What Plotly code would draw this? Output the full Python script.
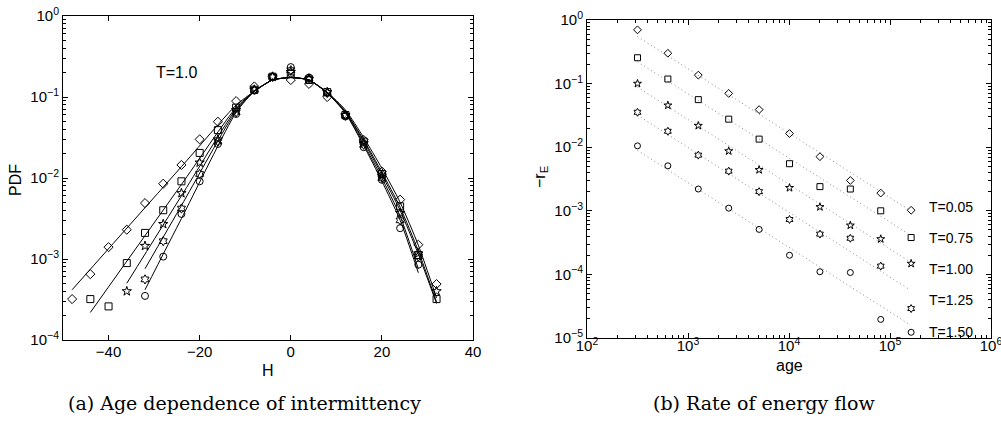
import math
import plotly.graph_objects as go

# ---------------- Panel (a): PDF of H at T=1.0 ----------------
H_diamond = [-48, -44, -40, -36, -32, -28, -24, -20, -16, -12, -8, -4, 0, 4, 8, 12, 16, 20, 24, 28, 32]
P_diamond = [3.2e-4, 6.5e-4, 1.4e-3, 2.3e-3, 4.9e-3, 8.5e-3, 0.0145, 0.030, 0.0495, 0.089, 0.135,
             0.178, 0.162, 0.145, 0.100, 0.060, 0.0295, 0.012, 0.0054, 0.0015, 0.00049]
H_square = [-44, -40, -36, -32, -28, -24, -20, -16, -12, -8, -4, 0, 4, 8, 12, 16, 20, 24, 28, 32]
P_square = [3.2e-4, 2.6e-4, 8.9e-4, 2.1e-3, 4.0e-3, 9.1e-3, 0.0204, 0.039, 0.074, 0.123, 0.178,
            0.195, 0.162, 0.115, 0.060, 0.0282, 0.0112, 0.00447, 0.00112, 0.00032]
H_star = [-36, -32, -28, -24, -20, -16, -12, -8, -4, 0, 4, 8, 12, 16, 20, 24, 28, 32]
P_star = [4.0e-4, 1.45e-3, 2.7e-3, 6.5e-3, 0.0155, 0.030, 0.069, 0.123, 0.178, 0.204, 0.166,
          0.115, 0.060, 0.0269, 0.0107, 0.0037, 0.00117, 0.00040]
H_hex = [-32, -28, -24, -20, -16, -12, -8, -4, 0, 4, 8, 12, 16, 20, 24, 28]
P_hex = [5.6e-4, 1.66e-3, 4.2e-3, 0.0112, 0.0282, 0.0646, 0.123, 0.178, 0.214, 0.170, 0.112,
         0.0589, 0.0257, 0.0100, 0.0030, 0.00107]
H_circle = [-32, -28, -24, -20, -16, -12, -8, -4, 0, 4, 8, 12, 16, 20, 24, 28]
P_circle = [3.5e-4, 1.07e-3, 3.6e-3, 9.1e-3, 0.0263, 0.0617, 0.120, 0.178, 0.234, 0.174, 0.112,
            0.0575, 0.024, 0.0095, 0.0024, 0.00085]

# fitted curves (log10 of PDF)
FH_diamond = [-48, -24, -12, -8, -4, 0, 4, 8, 12, 16, 20, 24, 28, 32]
FL_diamond = [-3.38, -1.86, -1.10, -0.93, -0.79, -0.76, -0.79, -0.94, -1.16, -1.50, -1.88, -2.30, -2.83, -3.48]
FH_square = [-44, -24, -12, -8, -4, 0, 4, 8, 12, 16, 20, 24, 28, 32]
FL_square = [-3.66, -2.08, -1.13, -0.93, -0.79, -0.76, -0.79, -0.95, -1.18, -1.53, -1.93, -2.36, -2.90, -3.53]
FH_star = [-36, -24, -12, -8, -4, 0, 4, 8, 12, 16, 20, 24, 28, 32]
FL_star = [-3.30, -2.22, -1.15, -0.93, -0.79, -0.76, -0.79, -0.95, -1.18, -1.55, -1.96, -2.40, -2.94, -3.55]
FH_hex = [-32, -24, -12, -8, -4, 0, 4, 8, 12, 16, 20, 24, 28]
FL_hex = [-3.12, -2.34, -1.17, -0.93, -0.79, -0.76, -0.79, -0.95, -1.19, -1.58, -2.00, -2.47, -3.12]
FH_circle = [-32, -24, -12, -8, -4, 0, 4, 8, 12, 16, 20, 24, 28]
FL_circle = [-3.38, -2.50, -1.19, -0.93, -0.79, -0.76, -0.79, -0.95, -1.20, -1.60, -2.04, -2.52, -3.17]

# ---------------- Panel (b): rate of energy flow ----------------
ages = [316, 632, 1265, 2530, 5060, 10120, 20240, 40480, 80960, 161920]
T_labels = ["T=0.05", "T=0.75", "T=1.00", "T=1.25", "T=1.50"]
rE_005 = [0.70, 0.30, 0.136, 0.070, 0.039, 0.0164, 0.0071, 0.0030, 0.0019, 0.00102]
rE_075 = [0.255, 0.118, 0.056, 0.0276, 0.0134, 0.0055, 0.0024, 0.0022, 0.0010, 0.00038]
rE_100 = [0.10, 0.0455, 0.0218, 0.0087, 0.0044, 0.0023, 0.00115, 0.00059, 0.00036, 0.000148]
rE_125 = [0.0354, 0.0178, 0.0075, 0.0042, 0.0020, 0.00073, 0.00043, 0.00037, 0.000135, 2.9e-5]
rE_150 = [0.0105, 0.0051, 0.0022, 0.0011, 0.00051, 0.0002, 0.00011, 0.000107, 1.96e-5, 1.23e-5]
fit_age = [316, 150000]
fit_005 = [0.55, 0.00107]
fit_075 = [0.22, 0.00044]
fit_100 = [0.088, 0.000166]
fit_125 = [0.032, 6.0e-5]
fit_150 = [0.0089, 1.7e-5]
label_y = [1.15e-3, 3.8e-4, 1.23e-4, 3.9e-5, 1.23e-5]

symbols = ["diamond-open", "square-open", "star-open", "hexagram-open", "circle-open"]

W, HGT = 1001, 446


def px(x):
    return x / W


def py(y):
    return 1 - y / HGT


fig = go.Figure()

left_sets = [
    (H_diamond, P_diamond, FH_diamond, FL_diamond),
    (H_square, P_square, FH_square, FL_square),
    (H_star, P_star, FH_star, FL_star),
    (H_hex, P_hex, FH_hex, FL_hex),
    (H_circle, P_circle, FH_circle, FL_circle),
]
for (hx, pv, fh, fl), sym in zip(left_sets, symbols):
    fig.add_trace(go.Scatter(x=fh, y=[10 ** v for v in fl], mode="lines",
                             line=dict(color="black", width=1, shape="spline", smoothing=0.6),
                             xaxis="x", yaxis="y", showlegend=False, hoverinfo="skip"))
    fig.add_trace(go.Scatter(x=hx, y=pv, mode="markers",
                             marker=dict(symbol=sym, size=7, color="black", line=dict(width=1, color="black")),
                             xaxis="x", yaxis="y", showlegend=False))

right_sets = [(rE_005, fit_005), (rE_075, fit_075), (rE_100, fit_100), (rE_125, fit_125), (rE_150, fit_150)]
for (vals, fit), sym in zip(right_sets, symbols):
    fig.add_trace(go.Scatter(x=fit_age, y=fit, mode="lines",
                             line=dict(color="#8a8a8a", width=1, dash="1px,3px"),
                             xaxis="x2", yaxis="y2", showlegend=False, hoverinfo="skip"))
    fig.add_trace(go.Scatter(x=ages, y=vals, mode="markers",
                             marker=dict(symbol=sym, size=6, color="black", line=dict(width=1, color="black")),
                             xaxis="x2", yaxis="y2", showlegend=False))

SANS = "Liberation Sans"
tick_font = dict(family=SANS, size=15, color="black")
common = dict(showline=True, linecolor="black", linewidth=1, ticks="inside",
              ticklen=5, tickcolor="black", tickwidth=1, showgrid=False, zeroline=False,
              tickfont=tick_font, automargin=False, ticklabeloverflow="allow")


def pw(k):
    return "10<sup>" + ("−" + str(-k) if k < 0 else str(k)) + "</sup>"


def decades(lo, hi):
    return [10.0 ** k for k in range(lo, hi + 1)]


def minors(lo, hi):
    return [m * 10.0 ** k for k in range(lo, hi) for m in range(2, 10)]


def tick_ax(vals, ln, **kw):
    # axis that only draws tick marks (no line, no labels)
    d = dict(showline=False, ticks="inside", ticklen=ln, tickcolor="black", tickwidth=1,
             showgrid=False, zeroline=False, showticklabels=False, automargin=False,
             tickmode="array", tickvals=vals)
    d.update(kw)
    return d


yl_maj, yl_min = decades(-4, 0), minors(-4, 0)
x2_maj, x2_min = decades(2, 6), minors(2, 6)
y2_maj, y2_min = decades(-5, 0), minors(-5, 0)

fig.update_layout(
    width=W, height=HGT, margin=dict(l=0, r=0, t=0, b=0), autosize=False,
    paper_bgcolor="white", plot_bgcolor="white",
    xaxis=dict(domain=[px(63), px(473)], range=[-50, 40], anchor="y", mirror="ticks",
               tickmode="array", tickvals=[-40, -20, 0, 20, 40], ticktext=["−40", "−20", "0", "20", "40"],
               ticklabelstandoff=-2, **common),
    yaxis=dict(domain=[py(340), py(16)], type="log", range=[-4, 0], anchor="x", mirror=True,
               tickmode="array", tickvals=yl_maj, ticktext=[pw(k) for k in range(-4, 1)], **common),
    yaxis3=tick_ax(yl_min, 3, type="log", range=[-4, 0], overlaying="y", side="left", anchor="x"),
    yaxis4=tick_ax(yl_maj, 5, type="log", range=[-4, 0], overlaying="y", side="right", anchor="x"),
    yaxis5=tick_ax(yl_min, 3, type="log", range=[-4, 0], overlaying="y", side="right", anchor="x"),
    xaxis2=dict(domain=[px(587), px(991)], type="log", range=[2, 6], anchor="y2", mirror=True,
                tickmode="array", tickvals=x2_maj, ticktext=[pw(k) for k in range(2, 7)],
                ticklabelstandoff=-6, **common),
    xaxis3=tick_ax(x2_min, 3, type="log", range=[2, 6], overlaying="x2", side="bottom", anchor="y2"),
    xaxis4=tick_ax(x2_maj, 5, type="log", range=[2, 6], overlaying="x2", side="top", anchor="y2"),
    xaxis5=tick_ax(x2_min, 3, type="log", range=[2, 6], overlaying="x2", side="top", anchor="y2"),
    yaxis2=dict(domain=[py(338), py(20)], type="log", range=[-5, 0], anchor="x2", mirror=True,
                tickmode="array", tickvals=y2_maj, ticktext=[pw(k) for k in range(-5, 1)], **common),
    yaxis6=tick_ax(y2_min, 3, type="log", range=[-5, 0], overlaying="y2", side="left", anchor="x2"),
    yaxis7=tick_ax(y2_maj, 5, type="log", range=[-5, 0], overlaying="y2", side="right", anchor="x2"),
    yaxis8=tick_ax(y2_min, 3, type="log", range=[-5, 0], overlaying="y2", side="right", anchor="x2"),
)
# invisible traces so every tick-only axis is drawn
for xa, ya, xv, yv in [("x", "y3", -50, 1e-4), ("x", "y4", -50, 1e-4), ("x", "y5", -50, 1e-4),
                       ("x3", "y2", 1e2, 1e-5), ("x4", "y2", 1e2, 1e-5), ("x5", "y2", 1e2, 1e-5),
                       ("x2", "y6", 1e2, 1e-5), ("x2", "y7", 1e2, 1e-5), ("x2", "y8", 1e2, 1e-5)]:
    fig.add_trace(go.Scatter(x=[xv], y=[yv], mode="markers", marker=dict(opacity=0, size=1),
                             xaxis=xa, yaxis=ya, showlegend=False, hoverinfo="skip"))

ann_font = dict(family=SANS, size=16, color="black")
cap_font = dict(family="DejaVu Serif", size=19, color="black")
annotations = [
    dict(text="PDF", x=px(15), y=py(180), textangle=-90, font=ann_font),
    dict(text="H", x=px(268), y=py(370), font=ann_font),
    dict(text="−r<sub>E</sub>", x=px(541), y=py(177), textangle=-90, font=ann_font),
    dict(text="age", x=px(789), y=py(365), font=ann_font),
    dict(text="(a) Age dependence of intermittency", x=px(244), y=py(403), font=cap_font),
    dict(text="(b) Rate of energy flow", x=px(764), y=py(403), font=cap_font),
]
for a in annotations:
    a.update(xref="paper", yref="paper", xanchor="center", yanchor="middle", showarrow=False)
annotations.append(dict(text="T=1.0", x=-25, y=-0.70, xref="x", yref="y", xanchor="center",
                        yanchor="middle", showarrow=False, font=ann_font))
for lab, ly in zip(T_labels, label_y):
    annotations.append(dict(text=lab, x=5.366, y=math.log10(ly), xref="x2", yref="y2", xanchor="left",
                            yanchor="middle", showarrow=False, font=dict(family=SANS, size=14, color="black")))
fig.update_layout(annotations=annotations)

# the page's default 8px body margin would shift the figure; remove it
fig.write_html("out.html", config={"displayModeBar": False},
               post_script="document.body.style.margin='0px';")
